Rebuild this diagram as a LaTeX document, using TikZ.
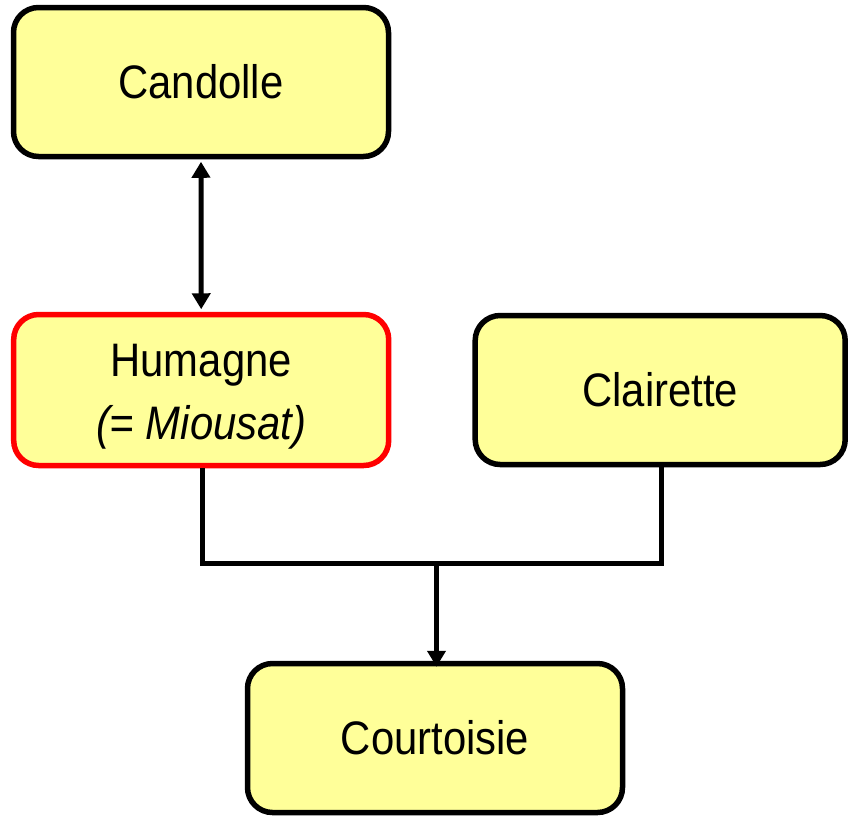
\documentclass[tikz,border=0pt]{standalone}
\usepackage{fontspec}
\setmainfont{Liberation Sans}[FakeStretch=0.89]
\usetikzlibrary{arrows.meta}
\definecolor{boxfill}{HTML}{FFFF99}
\definecolor{boxred}{HTML}{FF0000}
\begin{document}
\begin{tikzpicture}[x=1pt,y=-1pt,
  box/.style={draw=black,line width=5.5pt,fill=boxfill,rounded corners=25pt,
    minimum width=375pt,minimum height=149pt,inner sep=0pt,align=center,
    font=\fontsize{47}{63}\selectfont},
  conn/.style={line width=5pt},
  >={Triangle[length=16pt,width=18pt]}]
\useasboundingbox (0,0) rectangle (848,815);
\node[box] (cand) at (201,82) {Candolle};
\node[box,draw=boxred,minimum height=151pt] (hum) at (201.2,390) {\raisebox{-5pt}[\height][\depth]{\begin{tabular}{@{}c@{}}Humagne\\\textit{(= Miousat)}\end{tabular}}};
\node[box,minimum width=370pt] (cla) at (660.2,390) {Clairette};
\node[box] (cour) at (435,738) {Courtoisie};
\draw[conn,<->,shorten <=2.5pt,shorten >=2.5pt] (cand.south) -- (hum.north);
\coordinate (mid) at (436.5,563);
\draw[conn] ([xshift=1.5pt]hum.south) |- (mid) -| ([xshift=1.5pt]cla.south);
\draw[conn,->] (mid) -- ([yshift=-6pt]mid |- cour.north);
\end{tikzpicture}
\end{document}
